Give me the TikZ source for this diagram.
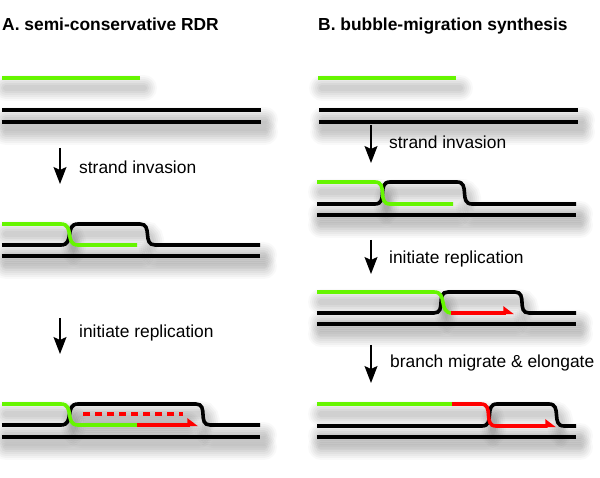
\documentclass[tikz,border=0pt]{standalone}
\usepackage{fontspec}
\setmainfont{Liberation Sans}
\usetikzlibrary{arrows.meta,backgrounds}

\definecolor{strandgreen}{RGB}{102,245,0}
\definecolor{strandred}{RGB}{255,0,0}

\tikzset{
    dna/.style={line width=3.6pt},
    newdna/.style={dna,strandred,-{Stealth[harpoon,length=9pt,width=13pt,inset=0pt]}},
    step arrow/.style={line width=1.4pt,-{Stealth[length=17pt,width=13pt,inset=3pt]}},
    label/.style={anchor=base west,inner sep=0pt},
    sw/.style={looseness=1.3}
}

\newcommand{\strandshadow}[1]{%
    \begin{pgfonlayer}{background}
        \foreach \w/\o in {26/0.025,22/0.03,18/0.03,14/0.035,10/0.04,6/0.04}
            \draw[line width=\w pt,line cap=round,black,opacity=\o,shift={(4,10)}] #1;
    \end{pgfonlayer}
}
\newcommand{\strandpath}[2]{%
    \strandshadow{#2}
    \draw[#1] #2;
}

\begin{document}
\begin{tikzpicture}[x=1pt,y=-1pt,every node/.style={font=\fontsize{17.4}{21}\selectfont}]
    \useasboundingbox (0,0) rectangle (600,478);

    \node[label] (TitleA) at (2,31) {\bfseries A. semi-conservative RDR};
    \node[label] (TitleB) at (318,31) {\bfseries B. bubble-migration synthesis};

    \strandpath{dna,strandgreen}{(2,78) -- (140,78)}
    \strandpath{dna}{(2,110) -- (261,110)}
    \strandpath{dna}{(2,122) -- (261,122)}

    \coordinate (ArrA1s) at (60,148);
    \coordinate (ArrA1e) at (60,184);
    \draw[step arrow] (ArrA1s) -- (ArrA1e);
    \node[label] (InvA) at (79,174) {strand invasion};

    \strandpath{dna}{(2,256) -- (260,256)}
    \strandpath{dna}{(2,245) -- (61,245) to[out=0,in=180,sw] (78,224) -- (140,224) to[out=0,in=180,sw] (155,245) -- (260,245)}
    \strandpath{dna,strandgreen}{(2,224) -- (61,224) to[out=0,in=180,sw] (78,245) -- (137,245)}

    \coordinate (ArrA2s) at (60,318);
    \coordinate (ArrA2e) at (60,354);
    \draw[step arrow] (ArrA2s) -- (ArrA2e);
    \node[label] (RepA) at (79,338) {initiate replication};

    \strandpath{dna}{(2,437) -- (260,437)}
    \strandpath{dna}{(2,425) -- (61,425) to[out=0,in=180,sw] (78,404) -- (196,404) to[out=0,in=180,sw] (210,425) -- (260,425)}
    \strandpath{dna,strandred,dash pattern=on 7pt off 5pt}{(83,414) -- (183,414)}
    \strandshadow{(2,404) -- (61,404) to[out=0,in=180,sw] (78,425) -- (195,425)}
    \draw[dna,strandgreen] (2,404) -- (61,404) to[out=0,in=180,sw] (78,425) -- (138,425);
    \draw[newdna] (137,425) -- (198,425);

    \strandpath{dna,strandgreen}{(318,78) -- (456,78)}
    \strandpath{dna}{(319,110) -- (578,110)}
    \strandpath{dna}{(319,122) -- (578,122)}

    \coordinate (ArrB1s) at (371,125);
    \coordinate (ArrB1e) at (371,163);
    \draw[step arrow] (ArrB1s) -- (ArrB1e);
    \node[label] (InvB) at (389,149) {strand invasion};

    \strandpath{dna}{(317,215) -- (576,215)}
    \strandpath{dna}{(317,204) -- (375,204) to[out=0,in=180,sw] (390,182) -- (457,182) to[out=0,in=180,sw] (472,204) -- (576,204)}
    \strandpath{dna,strandgreen}{(317,182) -- (375,182) to[out=0,in=180,sw] (390,204) -- (453,204)}

    \coordinate (ArrB2s) at (371,240);
    \coordinate (ArrB2e) at (371,274);
    \draw[step arrow] (ArrB2s) -- (ArrB2e);
    \node[label] (RepB) at (389,264) {initiate replication};

    \strandpath{dna}{(317,324) -- (576,324)}
    \strandpath{dna}{(317,313) -- (434,313) to[out=0,in=180,sw] (448,292) -- (515,292) to[out=0,in=180,sw] (529,313) -- (576,313)}
    \strandshadow{(317,292) -- (434,292) to[out=0,in=180,sw] (452,313) -- (511,313)}
    \draw[dna,strandgreen] (317,292) -- (434,292) to[out=0,in=180,sw] (452,313);
    \draw[newdna] (451,313) -- (514,313);

    \coordinate (ArrB3s) at (371,345);
    \coordinate (ArrB3e) at (371,383);
    \draw[step arrow] (ArrB3s) -- (ArrB3e);
    \node[label] (MigB) at (390,368) {branch migrate \& elongate};

    \strandpath{dna}{(317,437) -- (576,437)}
    \strandpath{dna}{(317,426) -- (482,426) to[out=0,in=180,sw] (497,404) -- (549,404) to[out=0,in=180,sw] (564,426) -- (576,426)}
    \strandshadow{(317,404) -- (481,404) to[out=0,in=180,sw] (496,426) -- (553,426)}
    \draw[dna,strandgreen] (317,404) -- (453,404);
    \draw[newdna] (452,404) -- (481,404) to[out=0,in=180,sw] (496,426) -- (556,426);
\end{tikzpicture}
\end{document}
